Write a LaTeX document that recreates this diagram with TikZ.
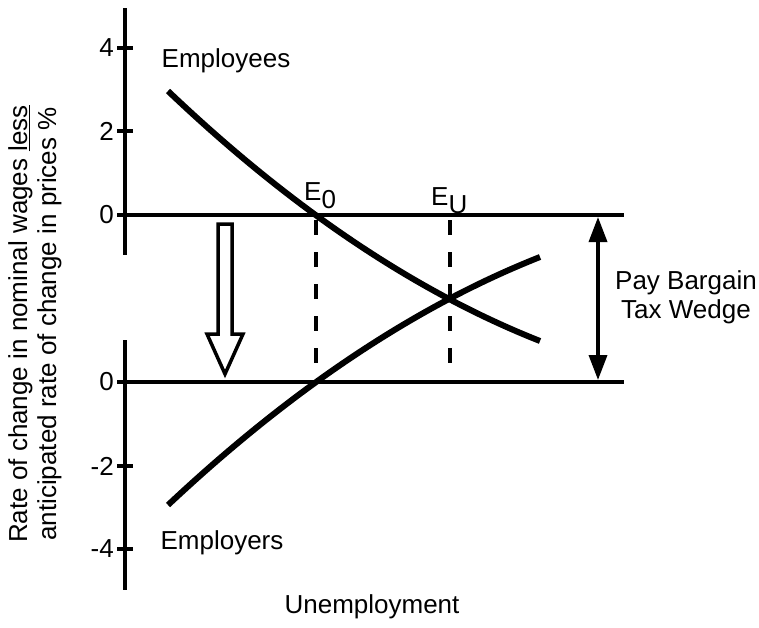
\documentclass[tikz,border=0pt]{standalone}
\usepackage{fontspec}
\setmainfont{Liberation Sans}
\usetikzlibrary{arrows.meta}
\tikzset{
  lbl/.style={font=\fontsize{26}{29}\selectfont, inner sep=0pt},
  axisline/.style={line width=4pt},
  hline/.style={line width=3.5pt},
  curve/.style={line width=6pt},
  dashline/.style={line width=3.5pt, dash pattern=on 15pt off 17pt},
  tickline/.style={line width=3.5pt},
}
\begin{document}
\begin{tikzpicture}[x=1pt,y=-1pt]
\useasboundingbox (0,0) rectangle (759,627);
% axes
\coordinate (uaT) at (125,8);
\coordinate (uaB) at (125,255);
\coordinate (laT) at (125,340);
\coordinate (laB) at (125,590);
\draw[axisline] (uaT) -- (uaB);
\draw[axisline] (laT) -- (laB);
% horizontal zero lines
\coordinate (h1L) at (125,215);
\coordinate (h1R) at (624,215);
\coordinate (h2L) at (125,382);
\coordinate (h2R) at (624,382);
\draw[hline] (h1L) -- (h1R);
\draw[hline] (h2L) -- (h2R);
% ticks
\foreach \y/\t [count=\i] in {48/4,131/2,215/0,382/0,466/-2,549/-4}{
  \coordinate (tkL\i) at (117,\y);
  \coordinate (tkR\i) at (133,\y);
  \draw[tickline] (tkL\i) -- (tkR\i);
  \node[lbl, anchor=east] (tl\i) at (114,\y) {\t};
}
% dashed lines
\coordinate (e0top) at (316,220);
\coordinate (e0bot) at (316,363);
\coordinate (eutop) at (450,220);
\coordinate (eubot) at (450,363);
\draw[dashline] (e0top) -- (e0bot);
\draw[dashline] (eutop) -- (eubot);
% curves
\coordinate (c1a) at (168,91);
\coordinate (c1b) at (540,341);
\coordinate (c2a) at (168,505);
\coordinate (c2b) at (540,257);
\draw[curve] (c1a) .. controls (292,209) and (416,292) .. (c1b);
\draw[curve] (c2a) .. controls (292,388.6) and (416,306) .. (c2b);
% labels
\node[lbl] (emp) at (226,61) {Employees};
\node[lbl] (empr) at (222,543) {Employers};
\node[lbl, anchor=base west] (E0) at (304,200) {E\raisebox{-8pt}{0}};
\node[lbl, anchor=base west] (EU) at (431,205) {E\raisebox{-8pt}{U}};
\node[lbl] (unemp) at (372,607) {Unemployment};
\node[lbl, align=center] (wedge) at (686,297) {Pay Bargain\\Tax Wedge};
\node[lbl, rotate=90, align=center] (ylab) at (35,324) {Rate of change in nominal wages \underline{less}\\anticipated rate of change in prices \%};
% double arrow
\coordinate (wT) at (598,217);
\coordinate (wB) at (598,380);
\draw[line width=3.5pt, {Triangle[length=25pt,width=18pt]}-{Triangle[length=25pt,width=18pt]}] (wT) -- (wB);
% hollow arrow
\coordinate (ha1) at (218,224);
\coordinate (ha2) at (232,224);
\coordinate (ha3) at (232,334);
\coordinate (ha4) at (243,334);
\coordinate (ha5) at (225,374);
\coordinate (ha6) at (207,334);
\coordinate (ha7) at (218,334);
\draw[line width=3.5pt, line join=miter, fill=white] (ha1) -- (ha2) -- (ha3) -- (ha4) -- (ha5) -- (ha6) -- (ha7) -- cycle;
\end{tikzpicture}
\end{document}
